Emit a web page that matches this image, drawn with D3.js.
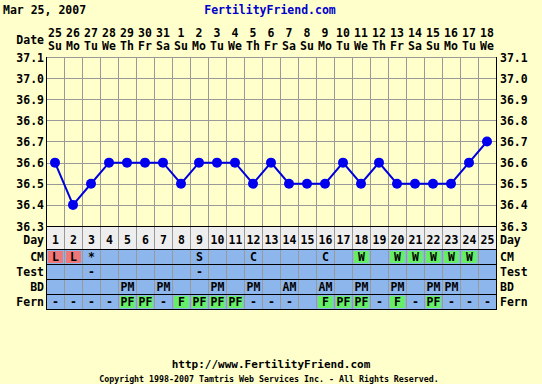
<!DOCTYPE html>
<html>
<head>
<meta charset="utf-8">
<script src="https://cdn.jsdelivr.net/npm/d3@7"></script>
<style>
html,body{margin:0;padding:0;background:#ffffcc;}
svg{display:block;}
text{font-family:"DejaVu Sans Mono","Liberation Mono",monospace;font-weight:bold;}
</style>
</head>
<body>
<svg id="chart" width="542" height="384"></svg>
<script>
const titleDate = "Mar 25, 2007";
const siteName = "FertilityFriend.com";
const siteUrl = "http://www.FertilityFriend.com";
const copyright = "Copyright 1998-2007 Tamtris Web Services Inc. - All Rights Reserved.";

const days = d3.range(1, 26);
const dates = ["25","26","27","28","29","30","31","1","2","3","4","5","6","7","8","9","10","11","12","13","14","15","16","17","18"];
const weekdays = ["Su","Mo","Tu","We","Th","Fr","Sa","Su","Mo","Tu","We","Th","Fr","Sa","Su","Mo","Tu","We","Th","Fr","Sa","Su","Mo","Tu","We"];
const temps = [36.6,36.4,36.5,36.6,36.6,36.6,36.6,36.5,36.6,36.6,36.6,36.5,36.6,36.5,36.5,36.5,36.6,36.5,36.6,36.5,36.5,36.5,36.5,36.6,36.7];
const tempTicks = [36.3,36.4,36.5,36.6,36.7,36.8,36.9,37.0,37.1];

const cm   = ["L","L","*","","","","","","S","","","C","","","","C","","W","","W","W","W","W","W",""];
const cmColor = ["pink","pink","","","","","","","","","","","","","","","","green","","green","green","green","green","green",""];
const test = ["","","-","","","","","","-","","","","","","","","","","","","","","","",""];
const bd   = ["","","","","PM","","PM","","","PM","","PM","","AM","","AM","","PM","","PM","","PM","PM","",""];
const fern = ["-","-","-","-","PF","PF","-","F","PF","PF","PF","-","-","-","","F","PF","PF","-","F","-","PF","-","-","-"];
const fernColor = ["","","","","green","green","","green","green","green","green","","","","","green","green","green","","green","","green","","",""];
const rowLabels = ["CM","Test","BD","Fern"];

const fills = {pink:"#ee7777", green:"#66ee66"};
const svg = d3.select("#chart");

const x = d3.scaleBand().domain(days).range([46, 496]);
const y = d3.scaleLinear().domain([36.3, 37.1]).range([226, 57]);

// Header
svg.append("text").attr("x", 3).attr("y", 14).attr("font-size", "11.5px").attr("fill", "#000").text(titleDate);
svg.append("text").attr("x", 270).attr("y", 14).attr("text-anchor", "middle").attr("font-size", "11.5px").attr("fill", "#0000cc").text(siteName);

// Date header
svg.append("text").attr("x", 44).attr("y", 44).attr("text-anchor", "end").attr("font-size", "11.5px").text("Date");
svg.append("g").selectAll("text").data(days).join("text")
  .attr("x", d => x(d) + x.bandwidth()/2).attr("y", 37).attr("text-anchor", "middle").attr("font-size", "11.5px")
  .text((d,i) => dates[i]);
svg.append("g").selectAll("text").data(days).join("text")
  .attr("x", d => x(d) + x.bandwidth()/2).attr("y", 50).attr("text-anchor", "middle").attr("font-size", "11.5px")
  .text((d,i) => weekdays[i]);

// Grid
const grid = svg.append("g").attr("stroke", "#999").attr("stroke-width", 1).attr("shape-rendering", "crispEdges");
grid.selectAll("line.h").data(tempTicks).join("line")
  .attr("x1", 46).attr("x2", 496).attr("y1", d => Math.round(y(d)) + 0.5).attr("y2", d => Math.round(y(d)) + 0.5);
grid.selectAll("line.v").data(days.slice(1)).join("line")
  .attr("x1", d => x(d) + 0.5).attr("x2", d => x(d) + 0.5).attr("y1", y(37.1)).attr("y2", y(36.3));

// Temperature labels
const yl = svg.append("g");
yl.selectAll("text.l").data(tempTicks).join("text").attr("class","l")
  .attr("x", 44).attr("y", d => y(d) + 4.5).attr("text-anchor", "end").attr("font-size", "11.5px")
  .text(d => d.toFixed(1));
yl.selectAll("text.r").data(tempTicks).join("text").attr("class","r")
  .attr("x", 500).attr("y", d => y(d) + 4.5).attr("font-size", "11.5px")
  .text(d => d.toFixed(1));

// Table rows
const rowTop = [249, 264, 279, 294];
const rowH = 15;
const tbl = svg.append("g").attr("shape-rendering", "crispEdges");
tbl.append("rect").attr("x", 46).attr("y", 226).attr("width", 450).attr("height", 23).attr("fill", "#eeeeee");
tbl.append("rect").attr("x", 46).attr("y", 249).attr("width", 450).attr("height", 60).attr("fill", "#8db6ec");

function cellFills(colors, rowIdx) {
  tbl.append("g").selectAll("rect").data(days.filter((d,i) => colors[i])).join("rect")
    .attr("x", d => x(d) + 2).attr("y", rowTop[rowIdx] + 2).attr("width", x.bandwidth() - 3).attr("height", rowH - 3)
    .attr("fill", d => fills[colors[d-1]]);
}
cellFills(cmColor, 0);
cellFills(fernColor, 3);

// Table lines
tbl.selectAll("line.tv").data(days.slice(1)).join("line")
  .attr("x1", d => x(d) + 0.5).attr("x2", d => x(d) + 0.5).attr("y1", 226).attr("y2", 309)
  .attr("stroke", "#999");
tbl.selectAll("line.th").data([226, 249, 264, 279, 294, 309]).join("line")
  .attr("x1", 46).attr("x2", 497).attr("y1", d => d + 0.5).attr("y2", d => d + 0.5)
  .attr("stroke", "#000");
// Borders
tbl.append("line").attr("x1", 46.5).attr("x2", 46.5).attr("y1", 57).attr("y2", 309).attr("stroke", "#000");
tbl.append("line").attr("x1", 496.5).attr("x2", 496.5).attr("y1", 57).attr("y2", 309).attr("stroke", "#000");

// Day numbers
svg.append("g").selectAll("text").data(days).join("text")
  .attr("x", d => x(d) + x.bandwidth()/2 + 0.5).attr("y", 244).attr("text-anchor", "middle").attr("font-size", "11.5px")
  .text(d => d);

function rowText(values, rowIdx) {
  svg.append("g").selectAll("text").data(days.filter((d,i) => values[i])).join("text")
    .attr("x", d => x(d) + x.bandwidth()/2 + 0.5).attr("y", rowTop[rowIdx] + 12).attr("text-anchor", "middle")
    .attr("font-size", "11.5px").attr("fill", "#000")
    .text(d => values[d-1]);
}
rowText(cm, 0);
rowText(test, 1);
rowText(bd, 2);
rowText(fern, 3);

// Row labels
const labels = ["Day"].concat(rowLabels);
const labelY = [244].concat(rowTop.map(t => t + 12));
svg.append("g").selectAll("text").data(labels).join("text")
  .attr("x", 44).attr("y", (d,i) => labelY[i]).attr("text-anchor", "end").attr("font-size", "11.5px").text(d => d);
svg.append("g").selectAll("text").data(labels).join("text")
  .attr("x", 500).attr("y", (d,i) => labelY[i]).attr("font-size", "11.5px").text(d => d);

// Temperature line and points
const line = d3.line().x((d,i) => x(days[i]) + x.bandwidth()/2).y(d => y(d));
svg.append("path").datum(temps).attr("d", line).attr("fill", "none").attr("stroke", "#0000dd").attr("stroke-width", 2);
svg.append("g").selectAll("circle").data(temps).join("circle")
  .attr("cx", (d,i) => x(days[i]) + x.bandwidth()/2).attr("cy", d => y(d)).attr("r", 5).attr("fill", "#0000ee");

// Footer
svg.append("text").attr("x", 271).attr("y", 368).attr("text-anchor", "middle").attr("font-size", "11px").text(siteUrl);
svg.append("text").attr("x", 269).attr("y", 382).attr("text-anchor", "middle").attr("font-size", "8.3px").attr("font-weight", "normal").text(copyright);
</script>
</body>
</html>
